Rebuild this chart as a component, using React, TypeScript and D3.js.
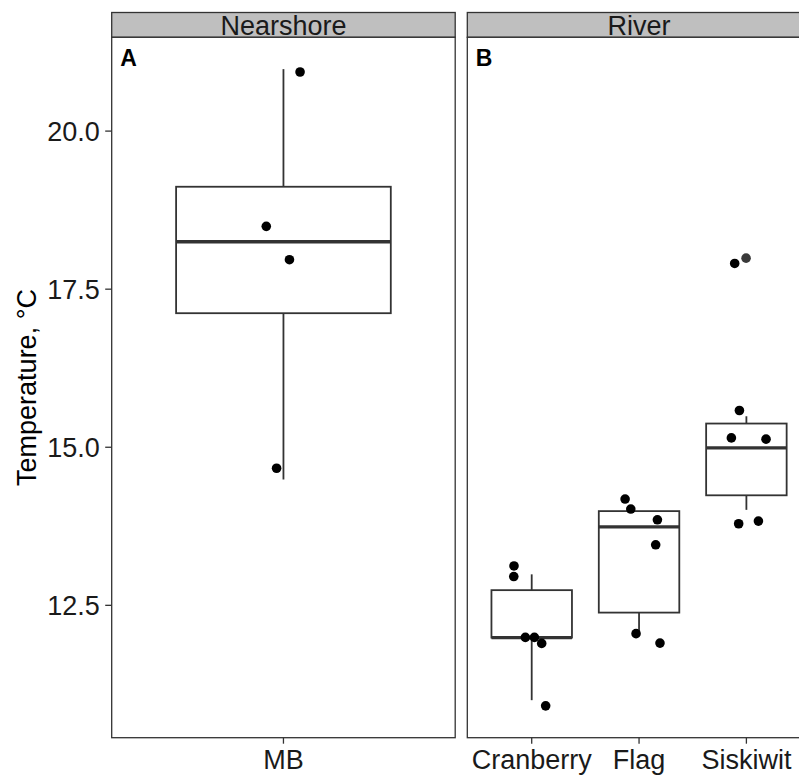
import React from "react";
import * as d3 from "d3";

// ---- Data ----
const nearshoreCategories = ["MB"];
const riverCategories = ["Cranberry", "Flag", "Siskiwit"];

// box stats: [whiskerLow, q1, median, q3, whiskerHigh]
const nearshoreBoxes = [
  { site: "MB", stats: [14.49, 17.12, 18.25, 19.12, 20.98] },
];
const riverBoxes = [
  { site: "Cranberry", stats: [11.0, 11.99, 11.99, 12.74, 12.99] },
  { site: "Flag", stats: [12.05, 12.385, 13.74, 13.99, 13.99] },
  { site: "Siskiwit", stats: [14.01, 14.24, 14.99, 15.375, 15.49] },
];

// jittered points: site, horizontal jitter (in category widths), temperature
const nearshorePoints = [
  { site: "MB", dx: 0.058, v: 20.935 },
  { site: "MB", dx: -0.06, v: 18.494 },
  { site: "MB", dx: 0.021, v: 17.966 },
  { site: "MB", dx: -0.024, v: 14.668 },
];
const riverPoints = [
  { site: "Cranberry", dx: -0.165, v: 13.123 },
  { site: "Cranberry", dx: -0.167, v: 12.955 },
  { site: "Cranberry", dx: -0.059, v: 11.993 },
  { site: "Cranberry", dx: 0.025, v: 11.993 },
  { site: "Cranberry", dx: 0.093, v: 11.898 },
  { site: "Cranberry", dx: 0.13, v: 10.91 },
  { site: "Flag", dx: -0.13, v: 14.181 },
  { site: "Flag", dx: -0.077, v: 14.023 },
  { site: "Flag", dx: 0.171, v: 13.853 },
  { site: "Flag", dx: 0.155, v: 13.457 },
  { site: "Flag", dx: -0.028, v: 12.052 },
  { site: "Flag", dx: 0.195, v: 11.903 },
  { site: "Siskiwit", dx: -0.065, v: 15.581 },
  { site: "Siskiwit", dx: -0.14, v: 15.148 },
  { site: "Siskiwit", dx: 0.183, v: 15.128 },
  { site: "Siskiwit", dx: -0.072, v: 13.79 },
  { site: "Siskiwit", dx: 0.112, v: 13.832 },
  { site: "Siskiwit", dx: -0.109, v: 17.907 },
  { site: "Siskiwit", dx: -0.003, v: 17.991, grey: true },
];

const yTicks = [12.5, 15.0, 17.5, 20.0];
const yTitle = "Temperature, °C";
const panels = [
  { strip: "Nearshore", tag: "A", cats: nearshoreCategories, boxes: nearshoreBoxes, points: nearshorePoints },
  { strip: "River", tag: "B", cats: riverCategories, boxes: riverBoxes, points: riverPoints },
];

// ---- Layout ----
const W = 799;
const H = 776;
const panelTop = 37.3;
const panelBottom = 737.7;
const stripTop = 12.5;
const panelW = 343.5;
const panelLefts = [111.7, 467.3];
const FONT = "'Liberation Sans', Arial, Helvetica, sans-serif";
const DARK = "#333333";

const allVals = [
  ...nearshorePoints.map((p) => p.v),
  ...riverPoints.map((p) => p.v),
  ...nearshoreBoxes.flatMap((b) => b.stats),
  ...riverBoxes.flatMap((b) => b.stats),
];
const [vmin, vmax] = d3.extent(allVals) as [number, number];
const pad = (vmax - vmin) * 0.05;
const y = d3.scaleLinear().domain([vmin - pad, vmax + pad]).range([panelBottom, panelTop]);

export default function App() {
  return (
    <div style={{ position: "absolute", left: 0, top: 0 }}>
      <svg width={W} height={H} style={{ display: "block", background: "#fff" }} fontFamily={FONT}>
        <rect x={0} y={0} width={W} height={H} fill="#fff" />
        {panels.map((p, pi) => {
          const x0 = panelLefts[pi];
          const x = d3.scalePoint<string>().domain(p.cats).range([x0, x0 + panelW]).padding(0.6);
          const step = x.step();
          const bw = step * 0.75;
          return (
            <g key={p.strip}>
              {/* strip */}
              <rect x={x0} y={stripTop} width={panelW} height={panelTop - stripTop} fill="#bfbfbf" stroke={DARK} strokeWidth={1.3} />
              <text x={x0 + panelW / 2} y={34.5} textAnchor="middle" fontSize={27} fill="#1a1a1a">{p.strip}</text>
              {/* panel */}
              <rect x={x0} y={panelTop} width={panelW} height={panelBottom - panelTop} fill="#fff" />
              {/* boxes */}
              {p.boxes.map((b) => {
                const cx = x(b.site)!;
                const [wl, q1, md, q3, wh] = b.stats;
                return (
                  <g key={b.site} stroke={DARK} fill="none">
                    <line x1={cx} x2={cx} y1={y(wh)} y2={y(q3)} strokeWidth={1.8} />
                    <line x1={cx} x2={cx} y1={y(q1)} y2={y(wl)} strokeWidth={1.8} />
                    <rect x={cx - bw / 2} y={y(q3)} width={bw} height={Math.max(0.01, y(q1) - y(q3))} fill="#fff" strokeWidth={1.8} />
                    <line x1={cx - bw / 2} x2={cx + bw / 2} y1={y(md)} y2={y(md)} strokeWidth={3.4} />
                  </g>
                );
              })}
              {/* points */}
              {p.points.map((pt, i) => (
                <circle key={i} cx={x(pt.site)! + pt.dx * step} cy={y(pt.v)} r={4.8} fill={(pt as any).grey ? "#3a3a3a" : "#000"} />
              ))}
              {/* tag */}
              <text x={x0 + 8.5} y={66} fontSize={23} fontWeight="bold" fill="#000">{p.tag}</text>
              {/* border */}
              <rect x={x0} y={panelTop} width={panelW} height={panelBottom - panelTop} fill="none" stroke={DARK} strokeWidth={1.3} />
              {/* x ticks */}
              {p.cats.map((c) => (
                <g key={c}>
                  <line x1={x(c)!} x2={x(c)!} y1={panelBottom} y2={panelBottom + 6} stroke={DARK} strokeWidth={1.3} />
                  <text x={x(c)!} y={769} textAnchor="middle" fontSize={27} fill="#1a1a1a">{c}</text>
                </g>
              ))}
            </g>
          );
        })}
        {/* y axis */}
        {yTicks.map((t) => (
          <g key={t}>
            <line x1={panelLefts[0] - 6.5} x2={panelLefts[0]} y1={y(t)} y2={y(t)} stroke={DARK} strokeWidth={1.3} />
            <text x={panelLefts[0] - 12} y={y(t)} dy="0.36em" textAnchor="end" fontSize={27} fill="#1a1a1a">{d3.format(".1f")(t)}</text>
          </g>
        ))}
        <text
          transform={`translate(36,${(panelTop + panelBottom) / 2}) rotate(-90)`}
          textAnchor="middle"
          fontSize={27}
          fill="#000"
        >
          {yTitle}
        </text>
      </svg>
    </div>
  );
}
